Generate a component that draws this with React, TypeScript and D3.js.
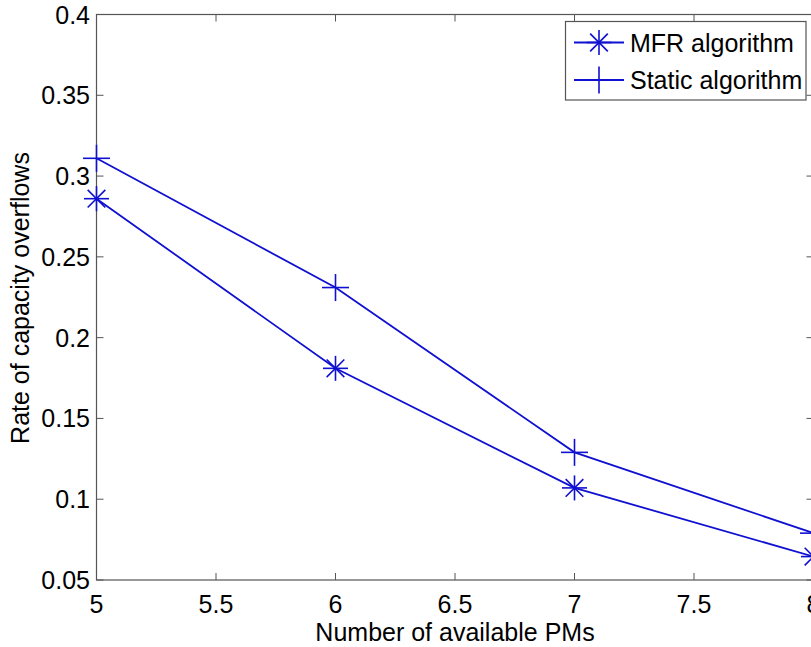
import React from "react";
import * as d3 from "d3";

const xValues = [5, 6, 7, 8];
const mfrValues = [0.286, 0.181, 0.107, 0.0645];
const staticValues = [0.311, 0.231, 0.129, 0.079];
const xTicks = [5, 5.5, 6, 6.5, 7, 7.5, 8];
const yTicks = [0.05, 0.1, 0.15, 0.2, 0.25, 0.3, 0.35, 0.4];
const seriesNames = ["MFR algorithm", "Static algorithm"];

const W = 811;
const H = 647;
const L = 96.5, R = 813.5, T = 14.5, B = 580;
const BLUE = "#1010d0";
const AXIS = "#555";
const FONT = "'Liberation Sans', Arial, Helvetica, sans-serif";
const FS = 25;

function Star({ x, y, s }: { x: number; y: number; s: number }) {
  const d = s * 0.7071;
  return (
    <g stroke={BLUE} strokeWidth={1.6}>
      <line x1={x - s} y1={y} x2={x + s} y2={y} />
      <line x1={x} y1={y - s} x2={x} y2={y + s} />
      <line x1={x - d} y1={y - d} x2={x + d} y2={y + d} />
      <line x1={x - d} y1={y + d} x2={x + d} y2={y - d} />
    </g>
  );
}

function Plus({ x, y, s }: { x: number; y: number; s: number }) {
  return (
    <g stroke={BLUE} strokeWidth={1.6}>
      <line x1={x - s} y1={y} x2={x + s} y2={y} />
      <line x1={x} y1={y - s} x2={x} y2={y + s} />
    </g>
  );
}

export default function App() {
  const x = d3.scaleLinear().domain([5, 8]).range([L, R]);
  const y = d3.scaleLinear().domain([0.05, 0.4]).range([B, T]);
  const line = d3
    .line<number>()
    .x((_, i) => x(xValues[i]))
    .y((v) => y(v));
  const tl = 7;
  const ms = 12.5;

  return (
    <svg
      width={W}
      height={H}
      style={{ position: "absolute", left: 0, top: 0, background: "#fff" }}
      fontFamily={FONT}
    >
      <rect x={0} y={0} width={W} height={H} fill="#fff" />
      <rect x={L} y={T} width={R - L} height={B - T} fill="none" stroke={AXIS} strokeWidth={1.2} />
      {xTicks.map((t) => (
        <g key={"xt" + t}>
          <line x1={x(t)} x2={x(t)} y1={B} y2={B - tl} stroke={AXIS} strokeWidth={1} />
          <line x1={x(t)} x2={x(t)} y1={T} y2={T + tl} stroke={AXIS} strokeWidth={1} />
          <text x={x(t)} y={613} textAnchor="middle" fontSize={FS} fill="#000">
            {d3.format("")(t)}
          </text>
        </g>
      ))}
      {yTicks.map((t) => (
        <g key={"yt" + t}>
          <line x1={L} x2={L + tl} y1={y(t)} y2={y(t)} stroke={AXIS} strokeWidth={1} />
          <line x1={R} x2={R - tl} y1={y(t)} y2={y(t)} stroke={AXIS} strokeWidth={1} />
          <text x={90} y={y(t) + 9} textAnchor="end" fontSize={FS} fill="#000">
            {d3.format("")(t)}
          </text>
        </g>
      ))}
      <text x={455} y={641} textAnchor="middle" fontSize={FS} fill="#000">
        Number of available PMs
      </text>
      <text
        transform={`translate(29, 298) rotate(-90)`}
        textAnchor="middle"
        fontSize={FS}
        fill="#000"
      >
        Rate of capacity overflows
      </text>
      <path d={line(mfrValues) || ""} fill="none" stroke={BLUE} strokeWidth={1.8} />
      <path d={line(staticValues) || ""} fill="none" stroke={BLUE} strokeWidth={1.8} />
      {mfrValues.map((v, i) => (
        <Star key={"m" + i} x={x(xValues[i])} y={y(v)} s={ms} />
      ))}
      {staticValues.map((v, i) => (
        <Plus key={"s" + i} x={x(xValues[i])} y={y(v)} s={ms + 1} />
      ))}
      <rect x={565.5} y={21.5} width={240.5} height={78.5} fill="#fff" stroke={AXIS} strokeWidth={1.2} />
      <line x1={574} x2={624} y1={42.5} y2={42.5} stroke={BLUE} strokeWidth={1.8} />
      <Star x={599} y={42.5} s={ms} />
      <text x={630} y={51.5} fontSize={FS} fill="#000">{seriesNames[0]}</text>
      <line x1={574} x2={624} y1={80} y2={80} stroke={BLUE} strokeWidth={1.8} />
      <Plus x={599} y={80} s={ms + 1} />
      <text x={630} y={89} fontSize={FS} fill="#000">{seriesNames[1]}</text>
    </svg>
  );
}
